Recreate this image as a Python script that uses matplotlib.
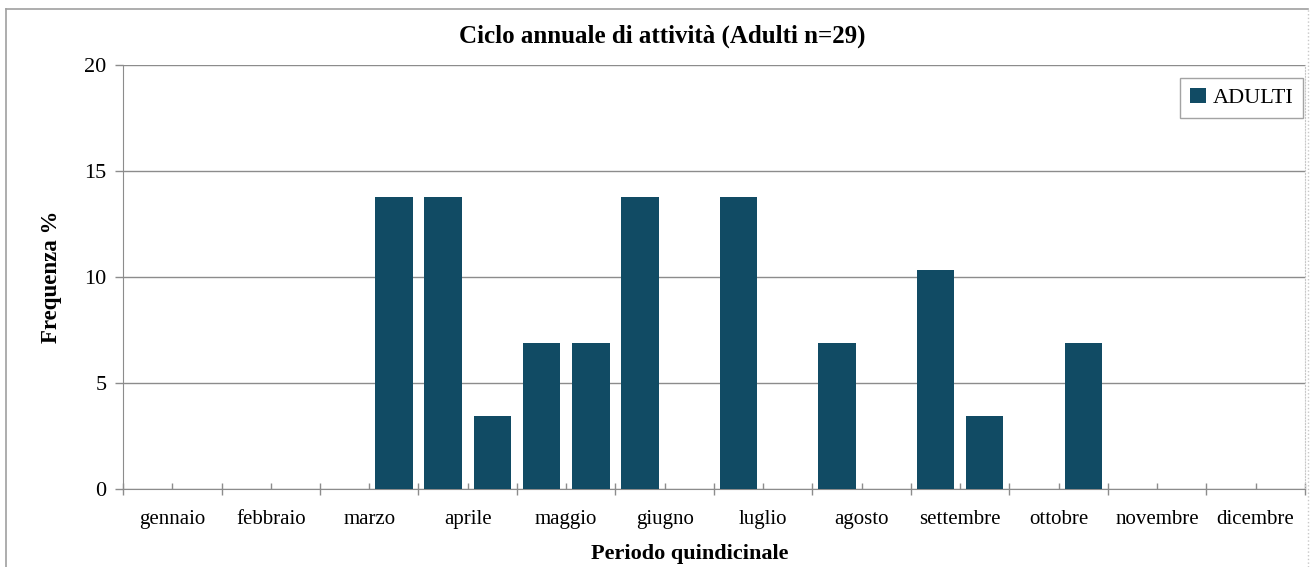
import numpy as np
import matplotlib
matplotlib.use("Agg")
import matplotlib.pyplot as plt
from matplotlib.lines import Line2D

# mesi (etichette asse x) e frequenze % per quindicina (2 per mese)
mesi = ["gennaio", "febbraio", "marzo", "aprile", "maggio", "giugno",
        "luglio", "agosto", "settembre", "ottobre", "novembre", "dicembre"]
adulti = [0.0, 0.0, 0.0, 0.0, 0.0, 13.79, 13.79, 3.45, 6.90, 6.90, 13.79, 0.0,
          13.79, 0.0, 6.90, 0.0, 10.34, 3.45, 0.0, 6.90, 0.0, 0.0, 0.0, 0.0]

COLORE = "#114b64"
GRIGIO = "#8c8c8c"

plt.rcParams.update({
    "font.family": "Liberation Serif",
    "font.size": 15,
})

W, H = 1316, 567
fig = plt.figure(figsize=(W / 100, H / 100), dpi=100)
ax = fig.add_axes([0.0935, 0.1376, 0.8980, 0.7478])

x = np.arange(len(adulti))
ax.bar(x, adulti, width=0.76, color=COLORE, label="ADULTI", zorder=3)

ax.set_xlim(-0.5, len(adulti) - 0.5)
ax.set_ylim(0, 20)
ax.set_yticks([0, 5, 10, 15, 20])
ax.yaxis.grid(True, color=GRIGIO, lw=1.0, zorder=0)

# tacche maggiori ai confini dei mesi, etichette al centro del mese
confini = np.arange(-0.5, len(adulti), 2)
centri = np.arange(0.5, len(adulti), 2)
ax.set_xticks(confini)
ax.set_xticklabels([])
ax.set_xticks(centri, mesi, minor=True)
ax.tick_params(axis="x", which="major", direction="inout", length=9,
               color=GRIGIO, width=1.0)
ax.tick_params(axis="x", which="minor", direction="in", length=4,
               color=GRIGIO, width=1.0, pad=15, labelsize=15)
ax.tick_params(axis="y", direction="out", length=6, color=GRIGIO,
               width=1.0, pad=6, labelsize=16)

ax.spines["top"].set_visible(False)
ax.spines["right"].set_color("#c8c8c8")
ax.spines["right"].set_linestyle(":")
ax.spines["left"].set_color(GRIGIO)
ax.spines["bottom"].set_color(GRIGIO)

fig.text(662 / W, 1 - 36 / H, "Ciclo annuale di attività (Adulti n=29)",
         fontsize=18, fontweight="bold", ha="center", va="center")
ax.set_ylabel("Frequenza %", fontsize=16.5, fontweight="bold", labelpad=16)
fig.text(690 / W, 1 - 559 / H, "Periodo quindicinale", fontsize=16,
         fontweight="bold", ha="center", va="baseline")

leg = ax.legend(loc="upper right", bbox_to_anchor=(0.9985, 0.97),
                fontsize=16, frameon=True, fancybox=False,
                handlelength=0.7, handleheight=0.7, handletextpad=0.3,
                borderpad=0.45, borderaxespad=0)
leg.get_frame().set_edgecolor(GRIGIO)
leg.get_frame().set_linewidth(1.0)

# cornice del grafico
fig.add_artist(Line2D([6 / W, 6 / W], [0, 1 - 9 / H],
                      color="#a0a0a0", lw=1.2))
fig.add_artist(Line2D([6 / W, 1308 / W], [1 - 9 / H, 1 - 9 / H],
                      color="#a0a0a0", lw=1.2))
fig.add_artist(Line2D([1308 / W, 1308 / W], [0, 1 - 9 / H],
                      color="#c8c8c8", lw=1.0, ls=":"))

fig.savefig("out.png", dpi=100)
